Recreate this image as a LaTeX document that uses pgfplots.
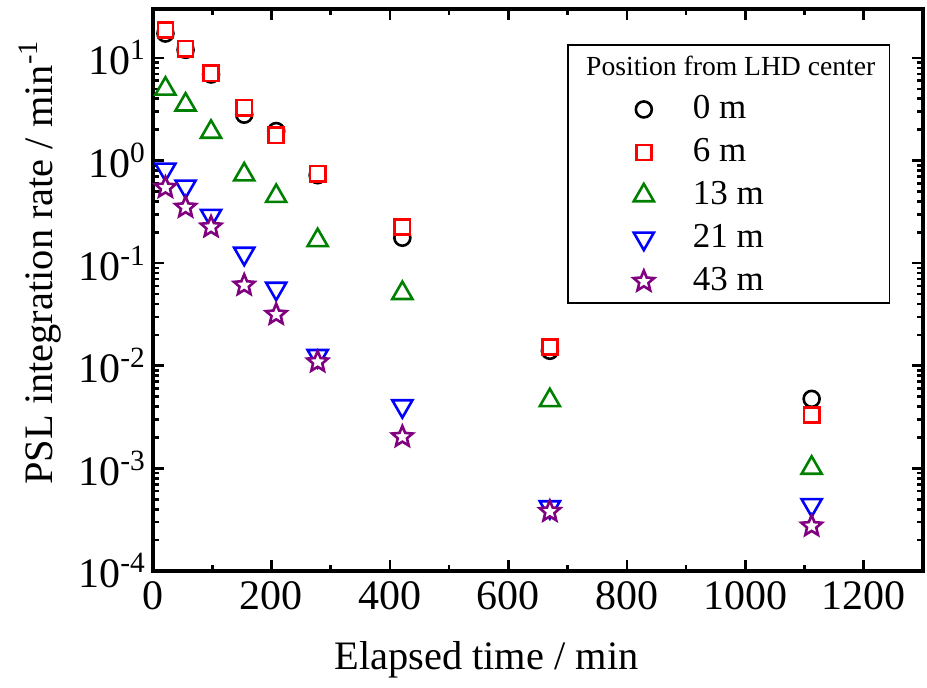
\documentclass[border=0pt]{standalone}
\usepackage{fontspec}
\setmainfont{Liberation Serif}
\usepackage{pgfplots}
\pgfplotsset{compat=1.18}
\definecolor{cgreen}{RGB}{0,128,0}
\definecolor{cpurple}{RGB}{128,0,128}
\newcommand\ns{\spaceskip=0pt\xspaceskip=0pt\relax}
\pgfdeclareplotmark{pstar}{%
  \pgfpathmoveto{\pgfpointpolar{90}{\pgfplotmarksize}}%
  \pgfpathlineto{\pgfpointpolar{126}{0.45\pgfplotmarksize}}%
  \pgfpathlineto{\pgfpointpolar{162}{\pgfplotmarksize}}%
  \pgfpathlineto{\pgfpointpolar{198}{0.45\pgfplotmarksize}}%
  \pgfpathlineto{\pgfpointpolar{234}{\pgfplotmarksize}}%
  \pgfpathlineto{\pgfpointpolar{270}{0.45\pgfplotmarksize}}%
  \pgfpathlineto{\pgfpointpolar{306}{\pgfplotmarksize}}%
  \pgfpathlineto{\pgfpointpolar{342}{0.45\pgfplotmarksize}}%
  \pgfpathlineto{\pgfpointpolar{18}{\pgfplotmarksize}}%
  \pgfpathlineto{\pgfpointpolar{54}{0.45\pgfplotmarksize}}%
  \pgfpathclose
  \pgfusepathqfillstroke}
\begin{document}
\begin{tikzpicture}
\begin{axis}[
  scale only axis, width=385pt, height=281pt,
  ymode=log, xmin=0, xmax=1300, ymin=1e-4, ymax=30,
  xtick={0,200,400,600,800,1000,1200}, minor x tick num=1,
  ytick={1e-4,1e-3,1e-2,1e-1,1,10},
  yticklabels={10\textsuperscript{-4},10\textsuperscript{-3},10\textsuperscript{-2},10\textsuperscript{-1},10\textsuperscript{0},10\textsuperscript{1}},
  xtick pos=both, ytick pos=both, tick align=inside,
  major tick length=5.5pt, minor tick length=3pt,
  axis line style={line width=1.6pt},
  every tick/.append style={line width=1.3pt, black},
  /pgf/number format/assume math mode=true,
  /pgf/number format/1000 sep={},
  xticklabel style={font=\fontsize{21}{25}\selectfont, yshift=-1.7pt},
  yticklabel style={font=\fontsize{21}{25}\selectfont},
  xlabel={Elapsed time / min},
  ylabel={PSL integration rate / min\textsuperscript{-1}},
  xlabel style={font=\fontsize{20.2}{24}\selectfont, at={(axis description cs:0.433,0)}, anchor=base, yshift=-49.5pt},
  ylabel style={font=\fontsize{20.2}{24}\selectfont, at={(axis description cs:-0.13,0.549)}, anchor=base},
  legend style={at={(axis description cs:0.539,0.936)}, anchor=north west, draw=black, line width=0.6pt,
    inner sep=0pt, outer sep=0pt, column sep=0pt, row sep=0pt,
    nodes={inner sep=0pt, text width=98.2pt, text height=15.25pt, text depth=6.25pt, anchor=west, font=\fontsize{17.5}{20}\selectfont}},
  legend cell align=left,
  legend image code/.code={\path (0pt,0pt) (61.8pt,0pt); \draw[#1] plot coordinates {(37.6pt,0pt)};},
]
\addlegendimage{empty legend}
\addlegendentry{\ns\fontsize{13.8}{16}\selectfont\hspace*{-53.3pt}\mbox{Position from LHD center}}
\addplot[only marks, mark=o, black, mark size=4pt, mark options={line width=1.3pt, fill=white}] coordinates {
(21,17.3) (55,12.0) (98,6.9) (154,2.8) (208,1.94) (278,0.72) (421,0.177) (670,0.0140) (1112,0.00476)};
\addlegendentry{\ns 0 m}
\addplot[only marks, mark=square*, red, mark size=3.8pt, mark options={line width=1.3pt, fill=white}] coordinates {
(21,18.8) (55,12.3) (98,7.1) (154,3.27) (208,1.76) (278,0.745) (421,0.225) (670,0.0153) (1112,0.0033)};
\addlegendentry{\ns 6 m}
\addplot[only marks, mark=triangle*, cgreen, mark size=5.8pt, mark options={line width=1.3pt, fill=white}] coordinates {
(21,5.0) (55,3.5) (98,1.9) (154,0.73) (208,0.45) (278,0.167) (421,0.051) (670,0.0046) (1112,0.00101)};
\addlegendentry{\ns 13 m}
\addplot[only marks, mark=triangle*, blue, mark size=5.8pt, mark options={line width=1.3pt, fill=white, rotate=180}] coordinates {
(21,0.82) (55,0.56) (98,0.29) (154,0.124) (208,0.0566) (278,0.0125) (421,0.00405) (670,0.00042) (1112,0.00044)};
\addlegendentry{\ns 21 m}
\addplot[only marks, mark=pstar, cpurple, mark size=5.4pt, mark options={line width=1.3pt, fill=white}] coordinates {
(21,0.545) (55,0.35) (98,0.225) (154,0.061) (208,0.0316) (278,0.0109) (421,0.00203) (670,0.00038) (1112,0.000274)};
\addlegendentry{\ns 43 m}
\end{axis}
\pgfresetboundingbox
\path[use as bounding box] (-76.5pt,-58.5pt) rectangle (387pt,285.5pt);
\end{tikzpicture}
\end{document}
